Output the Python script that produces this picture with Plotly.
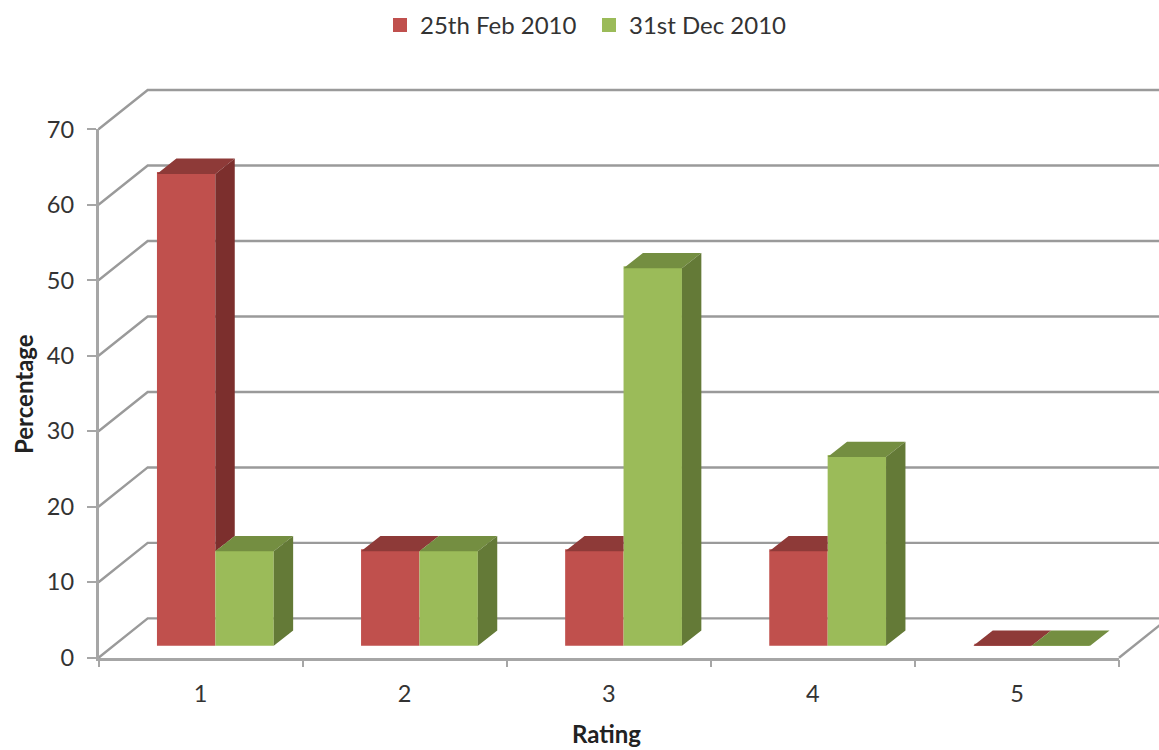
import plotly.graph_objects as go

ratings = [1, 2, 3, 4, 5]
feb_2010 = [62.5, 12.5, 12.5, 12.5, 0]
dec_2010 = [12.5, 12.5, 50, 25, 0]
y_ticks = [0, 10, 20, 30, 40, 50, 60, 70]
series_names = ["25th Feb 2010", "31st Dec 2010"]

W, H = 1159, 750
L, R, T, B = 98.5, 1119, 129.3, 657.7
px_x = (R - L) / 5
px_y = (B - T) / 70
FONT = "Lato, Carlito, sans-serif"
GRID = "#9A9A9A"
AXIS = "#A6A6A6"
TEXT = "#333333"

wall_dx, wall_dy = 49.2 / px_x, 39.3 / px_y
depth_dx, depth_dy = 19.4 / px_x, 15.3 / px_y
floor_dy = 12.0 / px_y
shift = 14.8 / px_x
bar_w = 58.4 / px_x
edge_x, edge_y = 2 / px_x, 1 / px_y

fig = go.Figure()

# back wall and floor, on full-page axes drawn first
wx, wy = [], []
x_end = 5.5 + 60 / px_x
for v in y_ticks:
    wx += [0.5, 0.5 + wall_dx, x_end, None]
    wy += [v, v + wall_dy, v + wall_dy, None]
wx += [5.5, 5.5 + wall_dx, None]
wy += [0, wall_dy, None]
fig.add_trace(go.Scatter(x=wx, y=wy, mode="lines", line=dict(color=GRID, width=2.4),
                         showlegend=False, hoverinfo="skip"))

# front faces
centres = [r + shift for r in ratings]
fig.add_trace(go.Bar(x=[c - bar_w / 2 for c in centres], y=feb_2010, base=floor_dy + edge_y,
                     width=bar_w - edge_x, name=series_names[0],
                     marker=dict(color="#C0504D", line=dict(width=2, color="#C0504D")),
                     xaxis="x2", yaxis="y2"))
fig.add_trace(go.Bar(x=[c + bar_w / 2 for c in centres], y=dec_2010, base=floor_dy + edge_y,
                     width=bar_w - edge_x, name=series_names[1],
                     marker=dict(color="#9BBB59", line=dict(width=2, color="#9BBB59")),
                     xaxis="x2", yaxis="y2"))


def add_faces(xs, ys, color):
    fig.add_trace(go.Scatter(x=xs, y=ys, mode="none", fill="toself", fillcolor=color,
                             showlegend=False, hoverinfo="skip", cliponaxis=False,
                             xaxis="x2", yaxis="y2"))


# top and side faces of the first series, cut where the second series hides them
tx, ty, sx, sy = [], [], [], []
for c, a, b in zip(centres, feb_2010, dec_2010):
    x0, x1 = c - bar_w, c
    top = a + floor_dy
    if b > a:
        tx += [x0, x1, x1, x0 + depth_dx, None]
    else:
        tx += [x0, x1, x1 + depth_dx, x0 + depth_dx, None]
    ty += [top, top, top + depth_dy, top + depth_dy, None]
    if a > b:
        low = b + floor_dy
        sx += [x1, x1 + depth_dx, x1 + depth_dx, x1, None]
        sy += [top, top + depth_dy, low + depth_dy, low, None]
add_faces(tx, ty, "#8E3A38")
add_faces(sx, sy, "#7C2F2D")

# top and side faces of the second series
tx, ty, sx, sy = [], [], [], []
for c, b in zip(centres, dec_2010):
    x0, x1 = c, c + bar_w
    top = b + floor_dy
    tx += [x0, x1, x1 + depth_dx, x0 + depth_dx, None]
    ty += [top, top, top + depth_dy, top + depth_dy, None]
    if b > 0:
        sx += [x1, x1 + depth_dx, x1 + depth_dx, x1, None]
        sy += [top, top + depth_dy, floor_dy + depth_dy, floor_dy, None]
add_faces(tx, ty, "#748E41")
add_faces(sx, sy, "#647A37")

boundaries = [r - 0.5 for r in ratings] + [ratings[-1] + 0.5]
tick_font = dict(family=FONT, size=23.5, color=TEXT)
title_font = dict(family=FONT, size=24, color="#222222", weight="bold")

fig.update_layout(
    width=W, height=H, autosize=False,
    margin=dict(l=0, r=0, t=0, b=0, pad=0, autoexpand=False),
    paper_bgcolor="white", plot_bgcolor="rgba(0,0,0,0)",
    barmode="overlay", font=dict(family=FONT),
    legend=dict(orientation="h", x=380 / W, xanchor="left", y=1 - 3 / H, yanchor="top",
                font=dict(family=FONT, size=24, color=TEXT), entrywidth=164, entrywidthmode="pixels",
                traceorder="normal", bgcolor="rgba(0,0,0,0)"),
    xaxis=dict(domain=[0, 1], range=[0.5 - L / px_x, 0.5 + (W - L) / px_x], visible=False),
    yaxis=dict(domain=[0, 1], range=[-(H - B) / px_y, B / px_y], visible=False),
    xaxis2=dict(domain=[L / W, R / W], anchor="y2", range=[0.5, 5.5], tickmode="array", tickvals=ratings,
                ticktext=[str(r) for r in ratings], ticks="", tickfont=tick_font, ticklabelstandoff=13,
                showgrid=False, zeroline=False, showline=True, linecolor=AXIS, linewidth=2.5,
                minor=dict(tickmode="array", tickvals=boundaries, ticks="outside", ticklen=7,
                           tickwidth=2, tickcolor=AXIS, showgrid=False)),
    yaxis2=dict(domain=[1 - B / H, 1 - T / H], anchor="x2", range=[0, 70], tickmode="array", tickvals=y_ticks,
                ticks="outside", ticklen=9, tickwidth=2, tickcolor=AXIS, tickfont=tick_font,
                ticklabelstandoff=8, showgrid=False, zeroline=False, showline=True,
                linecolor=AXIS, linewidth=2.5),
    annotations=[
        dict(text="Percentage", x=23 / W, y=1 - 394 / H, xref="paper", yref="paper", textangle=-90,
             showarrow=False, font=title_font, xanchor="center", yanchor="middle"),
        dict(text="Rating", x=607 / W, y=1 - 733 / H, xref="paper", yref="paper",
             showarrow=False, font=title_font, xanchor="center", yanchor="middle"),
    ],
)

fig.write_html("out.html", config={"displayModeBar": False},
               post_script="document.body.style.margin='0';")
